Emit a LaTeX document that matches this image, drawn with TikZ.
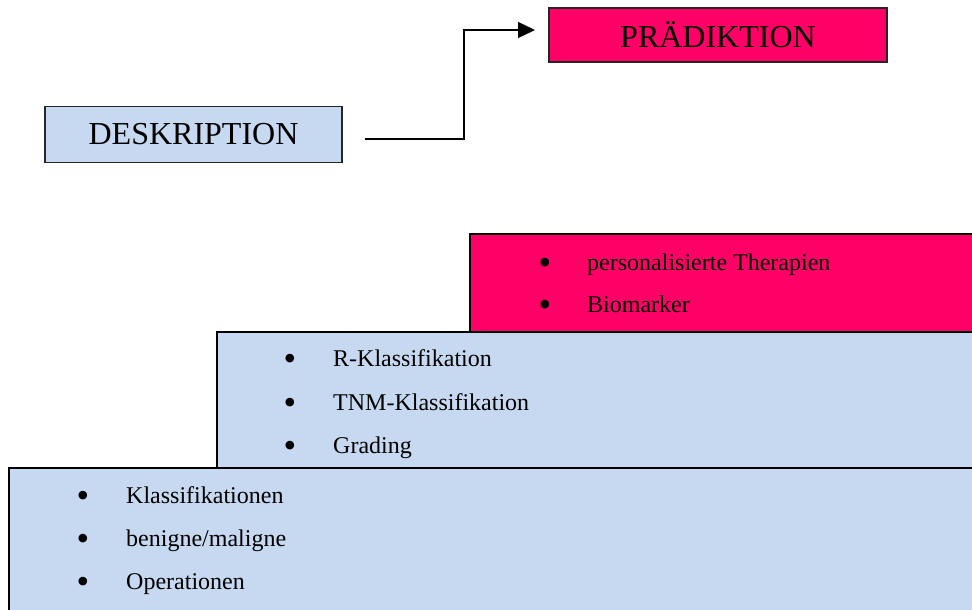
\documentclass[tikz,border=0pt]{standalone}
\usepackage{fontspec}
\setmainfont{Liberation Serif}
\usetikzlibrary{arrows.meta,positioning}

\definecolor{praedrot}{HTML}{FF0066}
\definecolor{deskblau}{HTML}{C6D9F1}

\tikzset{
	titelbox/.style={draw=black!85, line width=1.4pt, font=\fontsize{32}{36}\selectfont, inner sep=0pt},
	stufe/.style={draw=black, line width=1.4pt},
	punkt/.style={font=\fontsize{24}{28}\selectfont, anchor=base west, inner sep=0pt},
	kugel/.style={font=\fontsize{36}{36}\selectfont, anchor=center, inner sep=0pt, yshift=-4pt},
}

\begin{document}
\begin{tikzpicture}[x=1pt,y=-1pt]
		% Picture frame (image pixels)
		\useasboundingbox (0,0) rectangle (972,610);
		\clip (0,0) rectangle (972,610);
		
		% Title boxes
		\node[titelbox, fill=praedrot, minimum width=338pt, minimum height=54pt] (praed) at (718,35) {PRÄDIKTION};
		\node[titelbox, fill=deskblau, minimum width=297pt, minimum height=56pt] (desk) at (193.5,134.5) {DESKRIPTION};
		
		% Arrow from description to prediction
		\coordinate (start) at (365,139);
		\coordinate (knick) at (464,139);
		\coordinate (ziel) at (535,30);
		\draw[line width=1.4pt, -{Triangle[length=17pt,width=16pt]}] (start) -- (knick) |- (ziel);
		
		% Staircase (boxes run off the page)
		\draw[stufe, fill=praedrot] (470,234) rectangle (990,332);
		\draw[stufe, fill=deskblau] (217,332) rectangle (990,468);
		\draw[stufe, fill=deskblau] (9,468) rectangle (990,630);
		
		% Top step (baselines)
		\node[kugel] (b1) at (545,262) {\textbullet};
		\node[punkt] (t1) at (587,270) {personalisierte Therapien};
		\node[kugel] (b2) at (545,304) {\textbullet};
		\node[punkt] (t2) at (587,312) {Biomarker};
		
		% Middle step
		\node[kugel] (b3) at (290,358) {\textbullet};
		\node[punkt] (t3) at (333,366) {R-Klassifikation};
		\node[kugel] (b4) at (290,402) {\textbullet};
		\node[punkt] (t4) at (333,410) {TNM-Klassifikation};
		\node[kugel] (b5) at (290,445) {\textbullet};
		\node[punkt] (t5) at (333,453) {Grading};
		
		% Bottom step
		\node[kugel] (b6) at (83,495) {\textbullet};
		\node[punkt] (t6) at (126,503) {Klassifikationen};
		\node[kugel] (b7) at (83,538) {\textbullet};
		\node[punkt] (t7) at (126,546) {benigne/maligne};
		\node[kugel] (b8) at (83,581) {\textbullet};
		\node[punkt] (t8) at (126,589) {Operationen};
		
	\end{tikzpicture}
\end{document}
